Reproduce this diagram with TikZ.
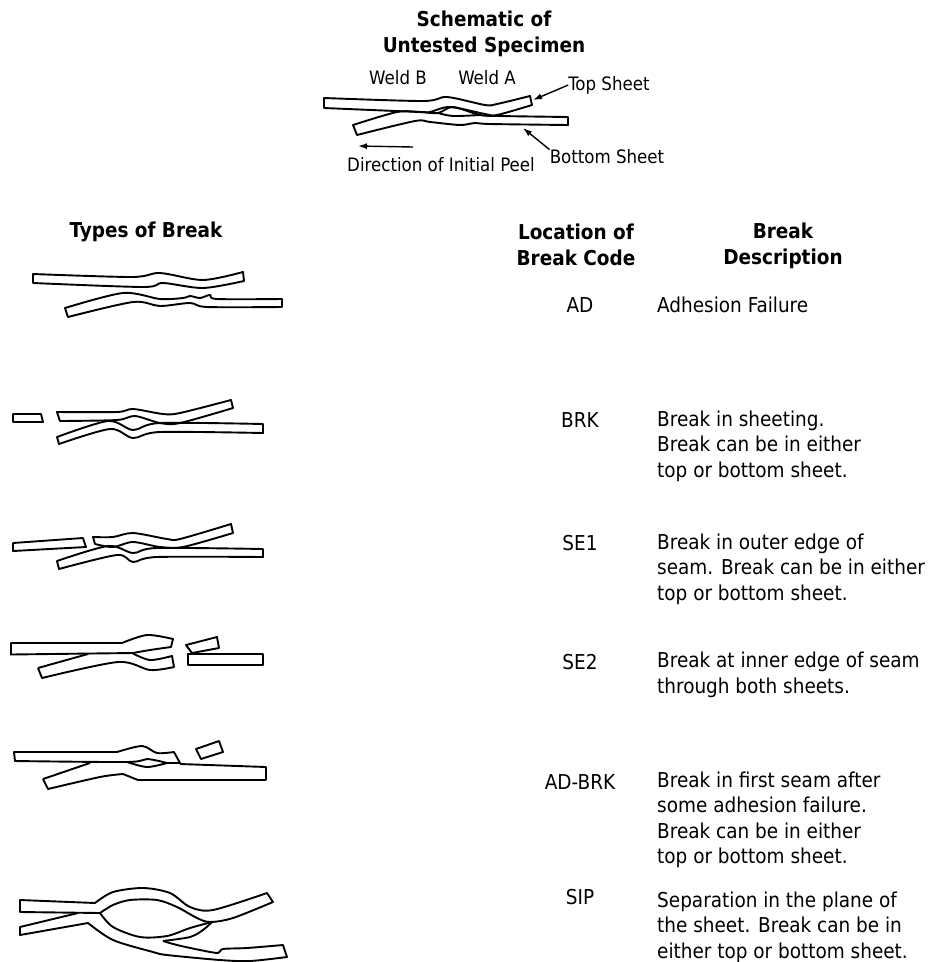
\documentclass[tikz,border=0pt]{standalone}
\usepackage{fontspec}
\setmainfont{DejaVu Sans Condensed}
\usetikzlibrary{arrows.meta}
\tikzset{
  x=1pt,y=-1pt,
  sheet/.style={line width=1.9pt,line join=round},
  sm/.style={smooth,tension=0.5},
  pointer/.style={-{Latex[length=9pt,width=6pt]},line width=1.4pt},
  headtext/.style={font=\fontsize{20.5}{26}\selectfont\bfseries,align=center,inner sep=0pt},
  smalltext/.style={font=\fontsize{18.5}{20}\selectfont,inner sep=0pt},
  codetext/.style={font=\fontsize{20.5}{26}\selectfont,inner sep=0pt},
  desctext/.style={font=\fontsize{20.5}{25.5}\selectfont,align=left,anchor=west,inner sep=0pt}
}
\begin{document}
\begin{tikzpicture}
   \useasboundingbox (0,0) rectangle (930,962);

   % untested specimen
   \node[headtext] (schematic) at (484,34) {Schematic of\\Untested Specimen};
   \node[smalltext] (weldb) at (398,78) {Weld B};
   \node[smalltext] (welda) at (487,78) {Weld A};
   \node[smalltext] (topsheet) at (609,85) {Top Sheet};
   \node[smalltext] (bottomsheet) at (607,157) {Bottom Sheet};
   \node[smalltext] (peel) at (441,165) {Direction of Initial Peel};
   \coordinate (topend) at (533,100);
   \coordinate (bottomend) at (523,128);
   \coordinate (peelstart) at (413,147);
   \coordinate (peelend) at (358,146);
   \draw[pointer] (topsheet.west) -- (topend);
   \draw[pointer] (bottomsheet.north west) -- (bottomend);
   \draw[pointer] (peelstart) -- (peelend);

   \draw[sheet] plot[sm] coordinates {(324,98) (423,101) (447,97) (485,105) (497,104) (530,96)}
     -- plot[sm] coordinates {(532,105) (497,115) (485,114) (450,107) (430,112) (420,112) (324,108)} -- cycle;
   \draw[sheet] plot[sm] coordinates {(353,125) (397,112) (420,112) (438,113) (453,107) (480,115) (500,116) (568,117)}
     -- plot[sm] coordinates {(568,125) (490,124) (475,123) (460,125) (430,122) (415,121) (357,135)} -- cycle;
   \draw[sheet] plot[sm] coordinates {(438,113) (453,116) (480,115)};

   % headings
   \node[headtext] (types) at (146,232) {Types of Break};
   \node[headtext] (location) at (576,245) {Location of\\Break Code};
   \node[headtext] (description) at (783,246) {Break\\Description};

   % AD
   \draw[sheet] plot[sm] coordinates {(33,274) (132,277) (160,273) (203,280) (243,272)}
     -- plot[sm] coordinates {(244,281) (203,288) (163,283) (143,287) (33,283)} -- cycle;
   \draw[sheet] plot[sm] coordinates {(65,308) (123,293) (160,299) (183,298) (190,296) (200,298) (210,295) (217,299) (282,299)}
     -- plot[sm] coordinates {(282,307) (207,307) (190,303) (160,306) (133,302) (68,317)} -- cycle;
   \node[codetext] (codead) at (580,305) {AD};
   \node[desctext] (descad) at (657,305) {Adhesion Failure};

   % BRK
   \draw[sheet] (13,414) -- (41,414) -- (43,422) -- (13,422) -- cycle;
   \draw[sheet] plot[sm] coordinates {(57,412) (117,412) (133,409) (163,414) (180,413) (231,400)}
     -- plot[sm] coordinates {(233,408) (180,423) (160,423) (135,416) (117,420) (60,421)} -- cycle;
   \draw[sheet] plot[sm] coordinates {(57,437) (108,421) (133,430) (160,423) (263,424)}
     -- plot[sm] coordinates {(263,433) (160,432) (133,438) (110,429) (59,444)} -- cycle;
   \node[codetext] (codebrk) at (580,420) {BRK};
   \node[desctext] (descbrk) at (657,446) {Break in sheeting.\\Break can be in either\\top or bottom sheet.};

   % SE1
   \draw[sheet] (13,543) -- (83,538) -- (86,547) -- (13,551) -- cycle;
   \draw[sheet] plot[sm] coordinates {(93,537) (113,537) (133,533) (167,539) (180,539) (231,524)}
     -- plot[sm] coordinates {(233,533) (183,547) (160,547) (133,542) (113,547) (95,544)} -- cycle;
   \draw[sheet] plot[sm] coordinates {(57,561) (108,546) (133,553) (157,548) (263,549)}
     -- plot[sm] coordinates {(263,557) (157,557) (133,562) (117,555) (59,569)} -- cycle;
   \node[codetext] (codesea) at (580,543) {SE1};
   \node[desctext] (descsea) at (657,569) {Break in outer edge of\\seam. Break can be in either\\top or bottom sheet.};

   % SE2
   \draw[sheet] (11,643) -- plot[sm] coordinates {(122,643) (147,635) (173,639)}
     -- plot[sm] coordinates {(171,647) (150,650) (133,653)} -- (11,654.5) -- cycle;
   \draw[sheet] (38,668) -- (88,654);
   \draw[sheet] plot[sm] coordinates {(132,653) (150,660) (172,656)}
     -- plot[sm] coordinates {(174,667) (150,670) (118,662) (42,678)} -- (38,668);
   \draw[sheet] (186,645) -- (217,637) -- (219,648) -- (192,653) -- cycle;
   \draw[sheet] (188,654) -- (263,654) -- (263,665) -- (188,665) -- cycle;
   \node[codetext] (codeseb) at (580,662) {SE2};
   \node[desctext] (descseb) at (657,675) {Break at inner edge of seam\\through both sheets.};

   % AD-BRK
   \draw[sheet] (14,752) -- plot[sm] coordinates {(117,752) (142,746) (157,753) (174,752)}
     -- (180,763) -- plot[sm] coordinates {(167,763) (147,759) (127,762) (15,761)} -- cycle;
   \draw[sheet] (43,779) -- (90,763);
   \draw[sheet] plot[sm] coordinates {(127,762) (147,767) (167,763)};
   \draw[sheet] (180,764) -- (266,767) -- (266,780) -- (138,780)
     -- plot[sm] coordinates {(123,774) (100,777) (48,789)} -- (43,779);
   \draw[sheet] (196,749) -- (219,741) -- (223,752) -- (201,759) -- cycle;
   \node[codetext] (codeadbrk) at (580,782) {AD-BRK};
   \node[desctext] (descadbrk) at (657,820) {Break in first seam after\\some adhesion failure.\\Break can be in either\\top or bottom sheet.};

   % SIP
   \draw[sheet] (20,900) -- plot[sm] coordinates {(95,903) (113,892) (143,888) (170,893) (190,907) (213,910) (267,893)}
     -- plot[sm] coordinates {(273,902) (233,918) (210,922) (197,918) (177,907) (157,900) (130,900) (113,905) (100,913)}
     -- (20,912) -- cycle;
   \draw[sheet] (78,913) -- (20,927) -- (20,935) -- plot[sm] coordinates {(88,923) (113,940) (153,952) (167,955) (220,960) (250,961) (287,957)}
     -- plot[sm] coordinates {(283,945) (247,948) (223,949) (218,953) (200,950) (177,945) (163,941)};
   \draw[sheet] plot[sm] coordinates {(100,913) (113,927) (140,937) (167,936) (190,928) (212,922)};
   \draw[sheet] plot[sm] coordinates {(163,941) (190,937) (203,930) (212,922)};
   \node[codetext] (codesip) at (580,897) {SIP};
   \node[desctext] (descsip) at (657,927) {Separation in the plane of\\the sheet. Break can be in\\either top or bottom sheet.};
\end{tikzpicture}
\end{document}
